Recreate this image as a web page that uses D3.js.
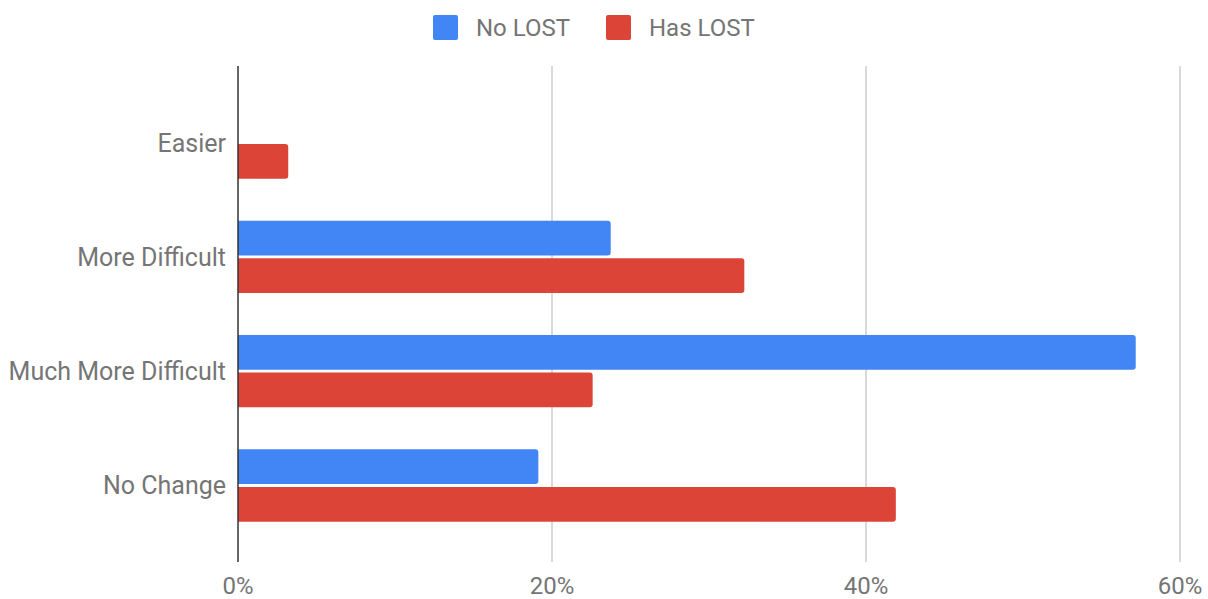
<!DOCTYPE html>
<html lang="en">
<head>
<meta charset="UTF-8">
<title>LOST chart</title>
<script src="https://cdn.jsdelivr.net/npm/d3@7"></script>
<style>
body { margin: 0; background: #fff; }
text { font-family: Roboto, "Noto Sans", sans-serif; fill: #757575; }
</style>
</head>
<body>
<svg id="chart" width="1208" height="599"></svg>
<script>
// values (percent)
let categories = ['Easier', 'More Difficult', 'Much More Difficult', 'No Change']
let series = ['No LOST', 'Has LOST']
let noLost = [0, 23.74, 57.18, 19.13]
let hasLost = [3.2, 32.25, 22.59, 41.9]
let ticks = [0, 20, 40, 60]
let colors = ['#4285f4', '#db4437']

let svg = d3.select('#chart')
let plotL = 238, plotR = 1180, plotT = 66, plotB = 562

let x = d3.scaleLinear().domain([0, 60]).range([plotL, plotR])
let y = d3.scaleBand().domain(categories).range([plotT, plotB])
	.paddingInner(0.367).paddingOuter(0.353)
let ys = d3.scaleBand().domain(series).range([0, y.bandwidth()]).paddingInner(0.075)

// grid
svg.append('g').selectAll('line')
	.data(ticks.filter(d => d > 0))
	.join('line')
	.attr('x1', d => x(d)).attr('x2', d => x(d))
	.attr('y1', plotT).attr('y2', plotB)
	.attr('stroke', '#cccccc').attr('stroke-width', 1.5)

// tick labels
svg.append('g').selectAll('text')
	.data(ticks)
	.join('text')
	.attr('x', d => x(d)).attr('y', 594)
	.attr('text-anchor', 'middle')
	.style('font-size', '24px')
	.text(d => d + '%')

// bars with rounded right end
function barPath(x0, y0, w, h, r) {
	if (w <= 0) return ''
	r = Math.min(r, w)
	return `M${x0},${y0}H${x0 + w - r}Q${x0 + w},${y0} ${x0 + w},${y0 + r}` +
		`V${y0 + h - r}Q${x0 + w},${y0 + h} ${x0 + w - r},${y0 + h}H${x0}Z`
}

let rows = categories.map((c, i) => ({ cat: c, vals: [noLost[i], hasLost[i]] }))
let groups = svg.append('g').selectAll('g')
	.data(rows)
	.join('g')
	.attr('transform', d => `translate(0,${y(d.cat)})`)
groups.selectAll('path')
	.data(d => d.vals.map((v, j) => ({ s: series[j], v: v, j: j })))
	.join('path')
	.attr('d', d => barPath(x(0), ys(d.s), x(d.v) - x(0), ys.bandwidth(), 3))
	.attr('fill', d => colors[d.j])

// baseline
svg.append('line')
	.attr('x1', x(0)).attr('x2', x(0))
	.attr('y1', plotT).attr('y2', plotB)
	.attr('stroke', '#333').attr('stroke-width', 1.5)

// category labels
svg.append('g').selectAll('text')
	.data(categories)
	.join('text')
	.attr('x', 226)
	.attr('y', d => y(d) + y.bandwidth() / 2 + 9)
	.attr('text-anchor', 'end')
	.style('font-size', '25px')
	.text(d => d)

// legend
let legX = [433, 606]
let leg = svg.append('g').selectAll('g')
	.data(series)
	.join('g')
	.attr('transform', (d, i) => `translate(${legX[i]},15)`)
leg.append('rect')
	.attr('width', 25).attr('height', 25).attr('rx', 2)
	.attr('fill', (d, i) => colors[i])
leg.append('text')
	.attr('x', 43).attr('y', 21)
	.style('font-size', '24px')
	.text(d => d)
</script>
</body>
</html>
